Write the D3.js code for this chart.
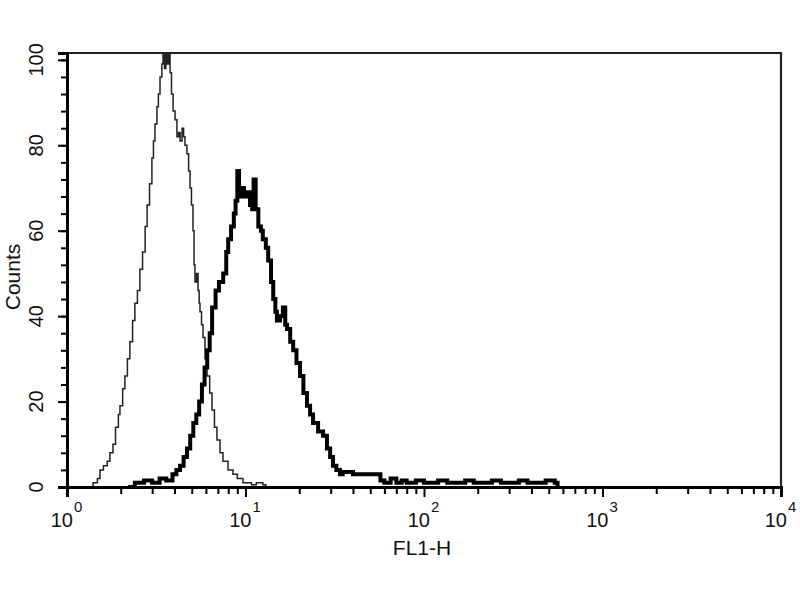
<!DOCTYPE html>
<html><head><meta charset="utf-8">
<script src="https://cdn.jsdelivr.net/npm/d3@7"></script>
<style>body{margin:0;background:#fff}svg{display:block}</style>
</head><body>
<svg id="c" width="800" height="600"></svg>
<script>
// FL1-H value, count — control (thin) histogram
const controlFL1 = [1.30,1.40,1.48,1.53,1.60,1.68,1.74,1.81,1.87,1.94,1.98,2.05,2.11,2.18,2.25,2.33,2.40,2.48,2.56,2.65,2.74,2.81,2.90,2.99,3.05,3.11,3.19,3.25,3.32,3.40,3.45,3.52,3.58,3.65,3.72,3.78,3.85,3.93,4.03,4.13,4.22,4.30,4.41,4.50,4.58,4.70,4.80,4.89,4.98,5.08,5.15,5.21,5.32,5.42,5.50,5.56,5.67,5.78,5.93,6.09,6.30,6.49,6.70,6.92,7.20,7.48,7.98,8.51,9.00,9.68,10.2,10.8,11.5,12.5,13.0];
const controlCounts = [0,1,2,4,5,6,8,10,14,17,19,23,26,30,34,39,43,46,51,55,61,66,71,77,81,85,89,92,96,99,103,98,103,99,103,97,92,88,86,82,83,81,84,82,80,78,74,70,66,60,52,48,50,46,43,41,38,35,30,26,22,18,14,11,8,6,4,3,2,1,1,0.5,1,0.5,0];
// FL1-H value, count — stained (thick) histogram
const stainedFL1 = [2.2,2.4,2.7,3.0,3.3,3.6,3.9,4.1,4.3,4.5,4.7,4.9,5.1,5.3,5.5,5.7,5.9,6.1,6.3,6.5,6.8,7.1,7.5,7.8,8.0,8.3,8.6,8.8,9.0,9.2,9.5,9.8,10.2,10.6,10.9,11.1,11.4,11.8,12.2,12.5,13.0,13.4,13.9,14.3,14.7,15.0,15.6,16.2,16.7,17.1,17.8,18.5,19.3,20.2,21.1,22.1,23.0,23.9,25.5,27.2,28.6,29.8,30.9,32.3,33.8,35,40,46,53,57,60,65,70,75,80,90,100,110,120,135,150,170,190,215,240,270,300,340,380,430,480,540,560];
const stainedCounts = [0,1,1.5,1,2,1.5,3,4,5,7,9,12,15,17,20,24,28,32,36,42,46,48,50,55,58,61,64,67,74,68,70,68,69,66,65,72,65,61,60,58,56,53,48,44,41,39,40,42,38,37,34,32,29,26,22,19,17,15,13,12,9,7,5,4,3,3.5,3,3,3,1.5,1,2,1,1.5,1,1.5,1,1,1.5,1,1,1.5,1,1,1.5,1,1,1.5,1,1,1.5,1,0];
const xTicks = [1,10,100,1000,10000];
const xExponents = ["0","1","2","3","4"];
const yTicks = [0,20,40,60,80,100];
const xTitle = "FL1-H";
const yTitle = "Counts";

const svg = d3.select("#c");
const L = 67, R = 781, T = 53, B = 487;
const x = d3.scaleLog().domain([1, 10000]).range([L, R]);
const y = d3.scaleLinear().domain([0, 101.6]).range([B, T]);
const font = "'Liberation Sans', Arial, sans-serif";

svg.append("clipPath").attr("id","clip").append("rect")
  .attr("x", L).attr("y", T).attr("width", R - L).attr("height", B - T + 2);

const line = d3.line().x(d => x(d[0])).y(d => y(d[1])).curve(d3.curveStepAfter);
const ctrl = controlFL1.map((v,i) => [v, controlCounts[i]]);
const stain = stainedFL1.map((v,i) => [v, stainedCounts[i]]);

const g = svg.append("g").attr("clip-path","url(#clip)");
g.append("path").datum(ctrl).attr("d", line).attr("fill","none")
  .attr("stroke","#222").attr("stroke-width",1.5);
g.append("path").datum(stain).attr("d", line).attr("fill","none")
  .attr("stroke","#000").attr("stroke-width",4).attr("stroke-linejoin","miter");

// frame top & right
svg.append("path").attr("d", `M${L},${T}H${R}V${B}`).attr("fill","none")
  .attr("stroke","#222").attr("stroke-width",2.2);

// x axis ticks
const minorX = [];
for (let e = 0; e < 4; e++) for (let k = 2; k <= 9; k++) minorX.push(k * Math.pow(10, e));
const xa = svg.append("g").attr("transform", `translate(0,${B})`)
  .call(d3.axisBottom(x).tickValues(minorX).tickSize(7).tickFormat(""));
const xb = svg.append("g").attr("transform", `translate(0,${B})`)
  .call(d3.axisBottom(x).tickValues(xTicks).tickSize(10).tickFormat(""));
[xa, xb].forEach(s => { s.select(".domain").attr("stroke","#000").attr("stroke-width",3);
  s.selectAll(".tick line").attr("stroke","#000").attr("stroke-width",2); });

xTicks.forEach((v,i) => {
  svg.append("text").attr("x", x(v) + 6).attr("y", 527)
    .attr("text-anchor","end").attr("font-family", font).attr("font-size", 20).attr("fill","#111")
    .text("10");
  svg.append("text").attr("x", x(v) + 7).attr("y", 512)
    .attr("text-anchor","start").attr("font-family", font).attr("font-size", 15).attr("fill","#111")
    .text(xExponents[i]);
});

// y axis ticks
const minorY = d3.range(0, 101, 4);
const ya = svg.append("g").attr("transform", `translate(${L},0)`)
  .call(d3.axisLeft(y).tickValues(minorY).tickSize(6).tickFormat(""));
const yb = svg.append("g").attr("transform", `translate(${L},0)`)
  .call(d3.axisLeft(y).tickValues(yTicks).tickSize(9).tickFormat(""));
[ya, yb].forEach(s => { s.select(".domain").attr("stroke","#000").attr("stroke-width",3);
  s.selectAll(".tick line").attr("stroke","#000").attr("stroke-width",2); });
yTicks.forEach(v => {
  svg.append("text").attr("transform", `translate(43,${y(v)}) rotate(-90)`)
    .attr("text-anchor","middle").attr("font-family", font).attr("font-size", 20).attr("fill","#111")
    .text(v);
});

svg.append("text").attr("x", 422).attr("y", 555).attr("text-anchor","middle")
  .attr("font-family", font).attr("font-size", 21).attr("fill","#111").text(xTitle);
svg.append("text").attr("transform", "translate(20,277) rotate(-90)").attr("text-anchor","middle")
  .attr("font-family", font).attr("font-size", 21).attr("fill","#111").text(yTitle);
</script>
</body></html>
